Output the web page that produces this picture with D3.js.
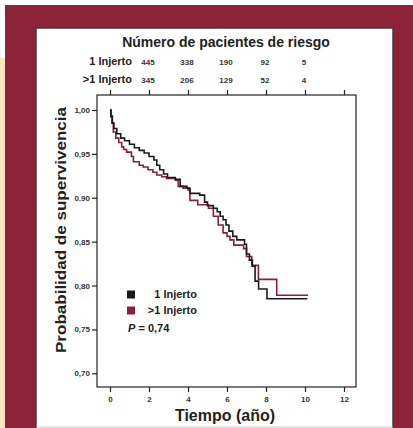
<!DOCTYPE html>
<html><head><meta charset="utf-8">
<script src="https://cdn.jsdelivr.net/npm/d3@7"></script>
<style>body{margin:0;padding:0;background:#fff;}svg{display:block;}text{font-family:"Liberation Sans",Arial,sans-serif;font-weight:bold;}</style>
</head><body>
<script>
// ---- data ----
const xTicks = [0, 2, 4, 6, 8, 10, 12];
const yTicks = [0.70, 0.75, 0.80, 0.85, 0.90, 0.95, 1.00];
const yTickLabels = ["0,70", "0,75", "0,80", "0,85", "0.90", "0,95", "1,00"];
const seriesNames = ["1 Injerto", ">1 Injerto"];
const riskYears = [2, 4, 6, 8, 10];
const riskOne = [445, 338, 190, 92, 5];
const riskMore = [345, 206, 129, 52, 4];
const kmOne = [[0,1.000],[0.05,0.993],[0.12,0.985],[0.2,0.979],[0.35,0.973],[0.55,0.968],[0.75,0.965],[1.0,0.961],[1.25,0.957],[1.5,0.954],[1.75,0.951],[2.0,0.947],[2.25,0.943],[2.4,0.937],[2.55,0.932],[2.75,0.927],[2.95,0.923],[3.35,0.921],[3.6,0.913],[3.95,0.911],[4.1,0.905],[4.6,0.903],[4.85,0.895],[5.0,0.891],[5.3,0.888],[5.5,0.884],[5.65,0.879],[5.8,0.875],[5.95,0.869],[6.1,0.862],[6.3,0.856],[6.5,0.852],[6.9,0.847],[7.0,0.836],[7.15,0.829],[7.3,0.822],[7.44,0.805],[7.62,0.796],[8.05,0.785],[10.12,0.785]];
const kmMore = [[0,1.000],[0.05,0.992],[0.1,0.985],[0.17,0.975],[0.3,0.968],[0.45,0.963],[0.6,0.958],[0.7,0.955],[0.85,0.952],[1.1,0.947],[1.2,0.941],[1.5,0.937],[1.7,0.935],[1.95,0.932],[2.2,0.929],[2.4,0.926],[2.65,0.924],[2.9,0.922],[3.35,0.920],[3.5,0.913],[3.75,0.911],[4.0,0.909],[4.1,0.897],[4.5,0.892],[5.05,0.888],[5.3,0.879],[5.55,0.869],[5.8,0.860],[6.0,0.856],[6.15,0.852],[6.35,0.846],[6.85,0.842],[7.0,0.833],[7.27,0.823],[7.61,0.807],[8.55,0.789],[10.12,0.788]];
const colors = ["#1a1a1a", "#8B1E3C"];

const W = 413, H = 428;
const svg = d3.select("body").append("svg").attr("width", W).attr("height", H);

// background panels
svg.append("rect").attr("x",0).attr("y",0).attr("width",W).attr("height",H).attr("fill","#fff");
svg.append("rect").attr("x",0).attr("y",58).attr("width",6).attr("height",H-58).attr("fill","#FEE5BB");
svg.append("rect").attr("x",5).attr("y",5).attr("width",W-5).attr("height",H-5).attr("fill","#8C2339");
svg.append("rect").attr("x",36).attr("y",28).attr("width",357).attr("height",402).attr("fill","#fff").attr("stroke","#3c3c3c").attr("stroke-width",1.5);
svg.append("rect").attr("x",36.8).attr("y",426).attr("width",355.5).attr("height",2).attr("fill","#e4e4e4");

// scales
const x = d3.scaleLinear().domain([0, 12]).range([110, 344]);
const y = d3.scaleLinear().domain([0.70, 1.00]).range([373.3, 110]);
const L = 97, R = 356, T = 95, B = 387;

// frame
svg.append("rect").attr("x",L).attr("y",T).attr("width",R-L).attr("height",B-T).attr("fill","none").attr("stroke","#222").attr("stroke-width",1.2);

// bottom axis
const gx = svg.append("g").attr("transform",`translate(0,${B})`)
  .call(d3.axisBottom(x).tickValues(xTicks).tickSize(5).tickPadding(4).tickFormat(d3.format("d")));
gx.select(".domain").remove();
gx.selectAll("line").attr("stroke","#222").attr("stroke-width",1.2);
gx.selectAll("text").attr("font-size","8px").attr("fill","#333").attr("font-family","Liberation Sans, Arial").attr("font-weight","bold");

// top axis ticks
const gt = svg.append("g").attr("transform",`translate(0,${T})`)
  .call(d3.axisTop(x).tickValues(xTicks).tickSize(5).tickFormat(""));
gt.select(".domain").remove();
gt.selectAll("line").attr("stroke","#222").attr("stroke-width",1.2);

// left axis
const gy = svg.append("g").attr("transform",`translate(${L},0)`)
  .call(d3.axisLeft(y).tickValues(yTicks).tickSize(5).tickPadding(2).tickFormat((d,i)=>yTickLabels[i]));
gy.select(".domain").remove();
gy.selectAll("line").attr("stroke","#222").attr("stroke-width",1.2);
gy.selectAll("text").attr("font-size","8px").attr("fill","#333").attr("font-family","Liberation Sans, Arial").attr("font-weight","bold");

// curves
const line = d3.line().x(d=>x(d[0])).y(d=>y(d[1])).curve(d3.curveStepAfter);
[kmMore, kmOne].forEach((s,i)=>{
  svg.append("path").attr("d", line(s)).attr("fill","none")
    .attr("stroke", i===0 ? colors[1] : colors[0]).attr("stroke-width",1.6);
});

// risk table
svg.append("text").attr("x",226).attr("y",47).attr("text-anchor","middle").attr("font-size","14px").attr("fill","#222").text("Número de pacientes de riesgo");
[riskOne, riskMore].forEach((arr,i)=>{
  const yy = 65 + i*18;
  svg.append("text").attr("x",132).attr("y",yy).attr("text-anchor","end").attr("font-size","11px").attr("fill","#222").text(seriesNames[i]);
  svg.selectAll(null).data(arr).enter().append("text")
    .attr("x",(d,j)=>x(riskYears[j])-1).attr("y",yy-0.5).attr("text-anchor","middle")
    .attr("font-size","8px").attr("fill","#333").text(d=>d);
});

// legend
seriesNames.forEach((n,i)=>{
  svg.append("rect").attr("x",127).attr("y",290.5+i*16).attr("width",8).attr("height",8).attr("fill",colors[i]);
  svg.append("text").attr("x",197).attr("y",298+i*15.5).attr("text-anchor","end").attr("font-size","11px").attr("fill","#222").text(n);
});
const pt = svg.append("text").attr("x",128).attr("y",332).attr("font-size","11px").attr("fill","#222");
pt.append("tspan").attr("font-style","italic").text("P");
pt.append("tspan").text(" = 0,74");

// axis titles
svg.append("text").attr("x",225).attr("y",421).attr("text-anchor","middle").attr("font-size","16px").attr("fill","#222").text("Tiempo (año)");
svg.append("text").attr("transform","translate(66,230) rotate(-90)").attr("text-anchor","middle").attr("font-size","15px").attr("fill","#222")
  .attr("textLength",246).attr("lengthAdjust","spacingAndGlyphs").text("Probabilidad de supervivencia");
</script>
</body></html>
